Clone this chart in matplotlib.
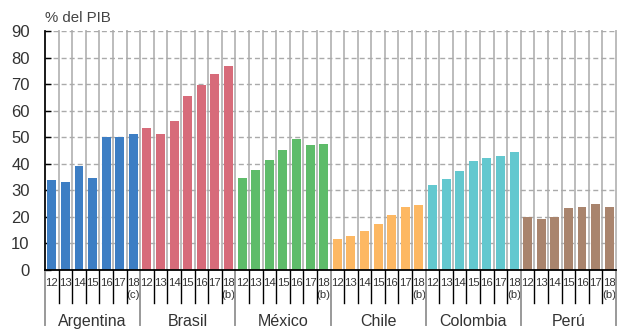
import matplotlib
matplotlib.use('Agg')
import matplotlib.pyplot as plt
from matplotlib.transforms import blended_transform_factory
import numpy as np

plt.rcParams['font.family'] = ['Liberation Sans', 'DejaVu Sans']

countries = ['Argentina', 'Brasil', 'México', 'Chile', 'Colombia', 'Perú']
years = ['12', '13', '14', '15', '16', '17', '18']
notes = ['(c)', '(b)', '(b)', '(b)', '(b)', '(b)']  # footnote on the 2018 figure

argentina = [34.0, 33.1, 39.2, 34.6, 50.0, 50.2, 51.3]
brasil = [53.6, 51.3, 56.1, 65.5, 69.7, 73.8, 76.8]
mexico = [34.6, 37.7, 41.4, 45.2, 49.3, 47.1, 47.4]
chile = [11.7, 12.8, 14.7, 17.3, 20.7, 23.7, 24.5]
colombia = [32.0, 34.3, 37.3, 41.0, 42.2, 42.9, 44.4]
peru = [20.0, 19.2, 20.0, 23.3, 23.7, 24.8, 23.7]
series = [argentina, brasil, mexico, chile, colombia, peru]

colors = ['#3d7ec4', '#d76b7a', '#5ebc6a', '#fdb863', '#63c8cf', '#a9846d']
yticks = [0, 10, 20, 30, 40, 50, 60, 70, 80, 90]

fig = plt.figure(figsize=(6.17, 3.29), dpi=100)
ax = fig.add_axes([45 / 617, (329 - 270) / 329, 571 / 617, 239 / 329])

n = len(years)
tick_pos, tick_lab = [], []
for gi, (vals, col) in enumerate(zip(series, colors)):
    x = gi * n + np.arange(n)
    ax.bar(x, vals, width=0.66, color=col, zorder=2)
    tick_pos.extend(x)
    tick_lab.extend(years[:-1] + [years[-1] + '\n' + notes[gi]])

total = n * len(series)
ax.set_xlim(-0.5, total - 0.5)
ax.set_ylim(0, 90)

# vertical grid at every bar slot boundary
for b in np.arange(-0.5, total, 1.0):
    ax.axvline(b, color='#bcbcbc', lw=1.4, zorder=0, clip_on=False)

ax.set_yticks(yticks)
ax.yaxis.grid(True, linestyle=(0, (3.6, 2.2)), color='#aaaaaa', lw=1.0, zorder=1)
ax.set_axisbelow(True)

for s in ['top', 'right']:
    ax.spines[s].set_visible(False)
ax.spines['left'].set_color('black')
ax.spines['bottom'].set_color('black')
ax.spines['left'].set_linewidth(1.2)
ax.spines['bottom'].set_linewidth(1.3)
ax.spines['left'].set_zorder(3)
ax.spines['bottom'].set_zorder(3)

ax.tick_params(axis='y', direction='in', length=4, width=1, pad=11,
               labelsize=12, labelcolor='#333333', color='black')
ax.set_xticks(tick_pos)
ax.set_xticklabels(tick_lab, fontsize=8.2, color='#333333', linespacing=1.25)
ax.tick_params(axis='x', length=0, pad=6)

trans = blended_transform_factory(ax.transData, ax.transAxes)
# short black separators between years
for gi in range(len(series)):
    for k in range(1, n):
        xb = gi * n + k - 0.5
        ax.plot([xb, xb], [0, -33 / 239], transform=trans, color='black',
                lw=1.0, clip_on=False, zorder=3)
# long grey separators between countries
for gi in range(len(series) + 1):
    xb = gi * n - 0.5
    ax.plot([xb, xb], [0, -55 / 239], transform=trans, color='#999999',
            lw=1.4, clip_on=False, zorder=3)

for gi, name in enumerate(countries):
    ax.text(gi * n + (n - 1) / 2, -56 / 239, name, transform=trans,
            ha='center', va='baseline', fontsize=11.5, color='#333333')

fig.text(45 / 617, 1 - 18 / 329, '% del PIB', ha='left', va='center',
         fontsize=10.8, color='#444444')

fig.savefig('out.png', dpi=100)
